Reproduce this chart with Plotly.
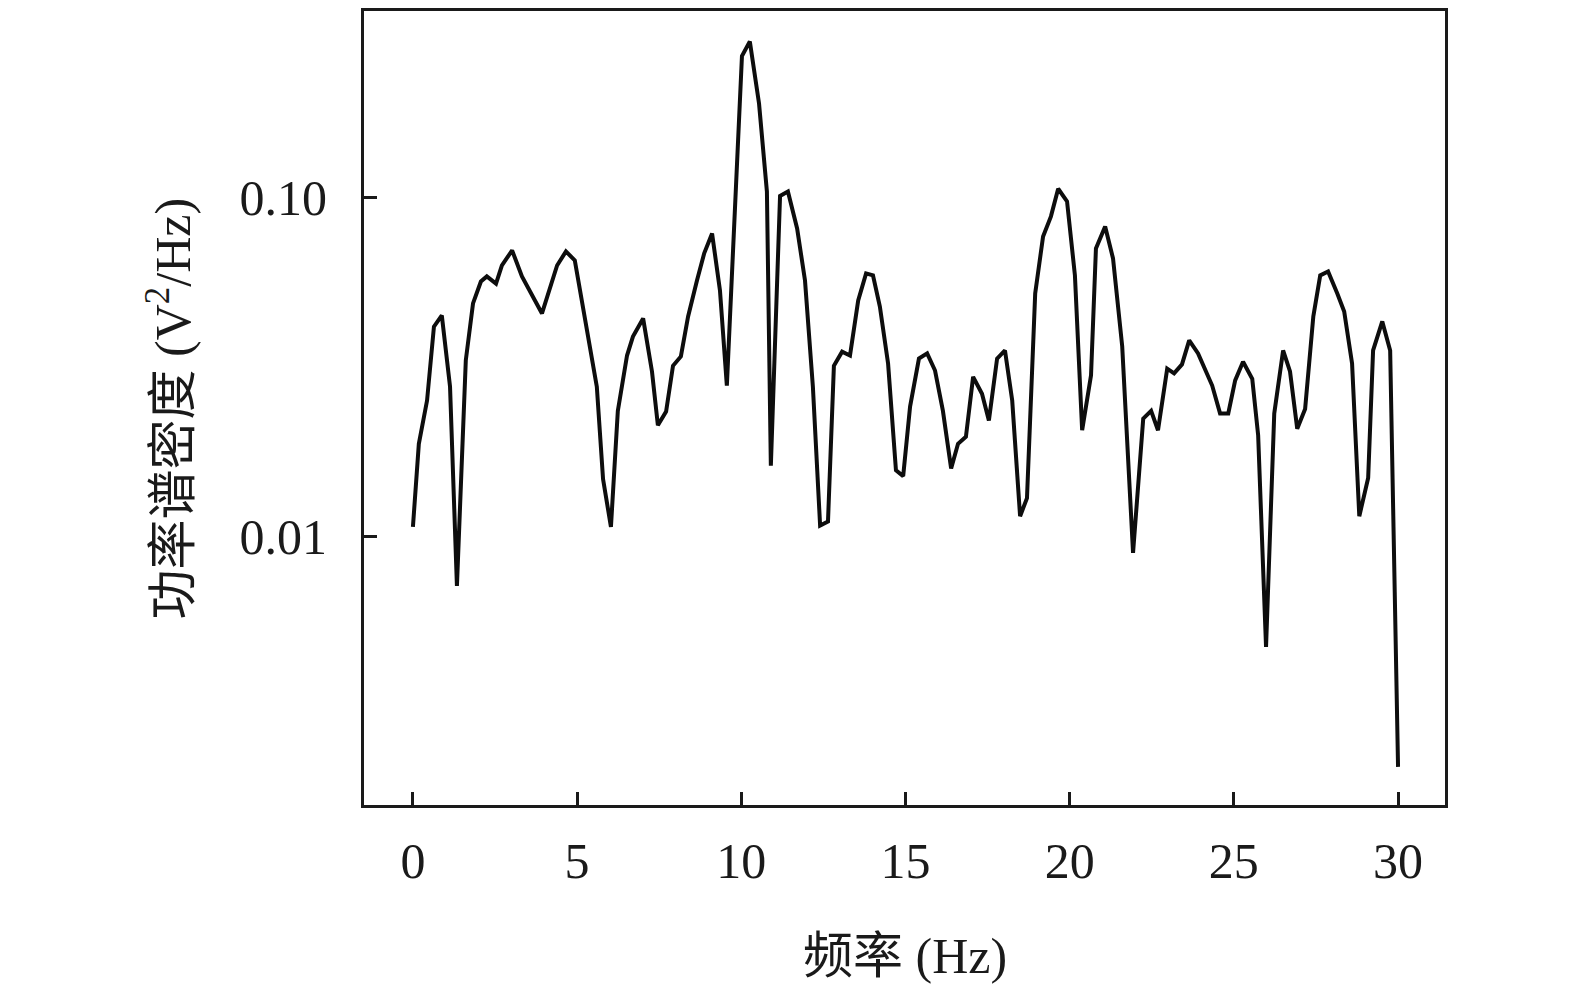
import plotly.graph_objects as go

# frequency (Hz) and power spectral density (V^2/Hz)
freq = [0.00, 0.18, 0.43, 0.64, 0.88, 1.13, 1.34, 1.61, 1.83, 2.07,
        2.25, 2.53, 2.71, 3.02, 3.32, 3.93, 4.39, 4.66, 4.93, 5.36,
        5.60, 5.79, 6.03, 6.24, 6.52, 6.70, 7.01, 7.28, 7.46, 7.71,
        7.92, 8.16, 8.38, 8.65, 8.87, 9.11, 9.35, 9.56, 9.87, 10.02,
        10.26, 10.54, 10.78, 10.90, 11.18, 11.42, 11.70, 11.94, 12.18, 12.40,
        12.64, 12.82, 13.07, 13.31, 13.56, 13.80, 14.01, 14.22, 14.47, 14.71,
        14.93, 15.14, 15.41, 15.66, 15.90, 16.14, 16.39, 16.60, 16.84, 17.06,
        17.33, 17.54, 17.79, 18.03, 18.25, 18.49, 18.70, 18.95, 19.19, 19.43,
        19.65, 19.92, 20.16, 20.38, 20.65, 20.80, 21.08, 21.32, 21.60, 21.93,
        22.24, 22.48, 22.69, 22.97, 23.18, 23.42, 23.64, 23.91, 24.34, 24.58,
        24.83, 25.04, 25.28, 25.56, 25.74, 25.98, 26.23, 26.50, 26.71, 26.93,
        27.17, 27.42, 27.63, 27.87, 28.15, 28.36, 28.60, 28.82, 29.09, 29.24,
        29.52, 29.76, 30.00]

psd = [0.0107, 0.0188, 0.0252, 0.0416, 0.0449, 0.0277, 0.00717, 0.0331, 0.0487, 0.0565,
       0.0585, 0.0557, 0.0630, 0.0698, 0.0585, 0.0455, 0.0630, 0.0693, 0.0652, 0.0371,
       0.0277, 0.0148, 0.0107, 0.0235, 0.0342, 0.0389, 0.0440, 0.0307, 0.0213, 0.0234,
       0.0319, 0.0340, 0.0446, 0.0569, 0.0684, 0.0783, 0.0532, 0.0279, 0.126, 0.261,
       0.288, 0.189, 0.104, 0.0162, 0.101, 0.104, 0.0810, 0.0569, 0.0277, 0.0108,
       0.0111, 0.0319, 0.0351, 0.0342, 0.0497, 0.0597, 0.0589, 0.0477, 0.0324, 0.0157,
       0.0151, 0.0242, 0.0335, 0.0347, 0.0309, 0.0235, 0.0159, 0.0188, 0.0197, 0.0296,
       0.0264, 0.0220, 0.0335, 0.0354, 0.0252, 0.0115, 0.0130, 0.0521, 0.0767, 0.0879,
       0.106, 0.0973, 0.0589, 0.0206, 0.0299, 0.0707, 0.0821, 0.0661, 0.0364, 0.00897,
       0.0223, 0.0235, 0.0206, 0.0313, 0.0303, 0.0322, 0.0379, 0.0347, 0.0279, 0.0231,
       0.0231, 0.0289, 0.0328, 0.0292, 0.0199, 0.00474, 0.0231, 0.0354, 0.0307, 0.0208,
       0.0238, 0.0446, 0.0589, 0.0605, 0.0521, 0.0461, 0.0324, 0.0115, 0.0149, 0.0354,
       0.0431, 0.0354, 0.0021]

x_ticks = [0, 5, 10, 15, 20, 25, 30]
y_ticks = [0.01, 0.1]
y_ticktext = ['0.01', '0.10']

FONT = 'Liberation Serif, Times New Roman, Noto Sans CJK SC'
INK = '#1a1a1a'

fig = go.Figure()
fig.add_trace(go.Scatter(
    x=freq,
    y=psd,
    mode='lines',
    line=dict(color='#0d0d0d', width=4),
    showlegend=False
))

fig.update_layout(
    width=1567,
    height=982,
    margin=dict(l=356, r=130, t=0, b=185),
    paper_bgcolor='white',
    plot_bgcolor='white',
    font=dict(family=FONT, size=50, color=INK),
    annotations=[
        dict(text='频率 (Hz)', xref='paper', yref='paper', x=0.5, y=-0.19,
             xanchor='center', yanchor='middle', showarrow=False,
             font=dict(family=FONT, size=50, color=INK)),
        dict(text='功率谱密度 (V<sup>2</sup>/Hz)', xref='paper', yref='paper',
             x=-0.18, y=0.5, xanchor='center', yanchor='middle',
             textangle=-90, showarrow=False,
             font=dict(family=FONT, size=50, color=INK)),
    ]
)

fig.update_xaxes(
    range=[-1.49, 31.43],
    tickvals=x_ticks,
    ticks='inside', ticklen=13, tickwidth=3, tickcolor=INK,
    showline=True, linewidth=3, linecolor=INK, mirror=True,
    showgrid=False, zeroline=False,
    ticklabelstandoff=10,
    tickfont=dict(family=FONT, size=50, color=INK)
)
fig.update_yaxes(
    type='log',
    range=[-2.790, -0.451],
    tickvals=y_ticks, ticktext=y_ticktext,
    ticks='inside', ticklen=13, tickwidth=3, tickcolor=INK,
    showline=True, linewidth=3, linecolor=INK, mirror=True,
    showgrid=False, zeroline=False,
    ticklabelstandoff=24,
    tickfont=dict(family=FONT, size=50, color=INK)
)

fig.write_html("out.html")
